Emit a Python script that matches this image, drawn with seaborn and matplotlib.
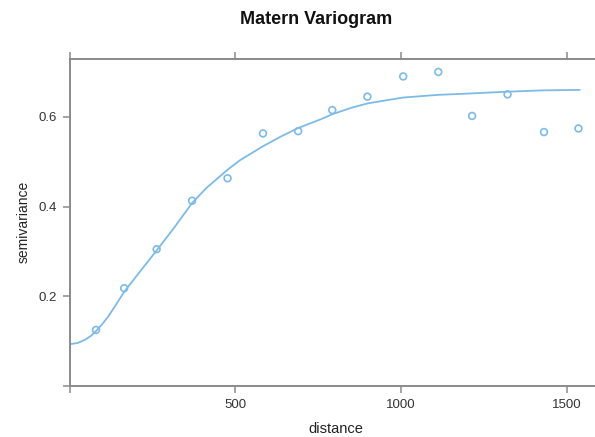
import matplotlib
matplotlib.use("Agg")
import matplotlib.pyplot as plt
import seaborn as sns
import pandas as pd

# Empirical variogram points
dist = [80, 165, 263, 370, 477, 584, 690, 793, 899, 1007, 1113, 1215, 1322, 1432, 1536]
gamma = [0.125, 0.218, 0.305, 0.413, 0.463, 0.563, 0.568, 0.615, 0.645, 0.690, 0.700, 0.602, 0.650, 0.566, 0.574]

# Fitted Matern model curve
curve_dist = [0, 25, 47, 65, 82, 100, 117, 140, 167, 218, 266, 318, 370, 414, 477, 514, 583, 635,
              690, 760, 794, 850, 900, 1007, 1113, 1178, 1322, 1430, 1540]
curve_gamma = [0.093, 0.096, 0.103, 0.112, 0.124, 0.139, 0.155, 0.181, 0.212, 0.260, 0.305,
               0.355, 0.408, 0.442, 0.482, 0.503, 0.534, 0.555, 0.575, 0.595, 0.606, 0.620,
               0.630, 0.643, 0.649, 0.651, 0.656, 0.659, 0.660]

xticks = [0, 500, 1000, 1500]
xticklabels = ["", "500", "1000", "1500"]
yticks = [0.0, 0.2, 0.4, 0.6]
yticklabels = ["", "0.2", "0.4", "0.6"]

pts = pd.DataFrame({"distance": dist, "semivariance": gamma})
model = pd.DataFrame({"distance": curve_dist, "semivariance": curve_gamma})

sns.set_theme(style="white")
plt.rcParams["font.family"] = ["Liberation Sans", "DejaVu Sans"]

W, H = 595, 437
fig = plt.figure(figsize=(W / 100, H / 100), dpi=100)
ax = fig.add_axes([69.5 / W, 1 - 386 / H, (602 - 69.5) / W, (386 - 58.5) / H])

col = "#7dbbe6"
sns.lineplot(data=model, x="distance", y="semivariance", ax=ax, color=col, linewidth=1.3)
sns.scatterplot(data=pts, x="distance", y="semivariance", ax=ax, marker="o",
                facecolor="none", edgecolor=col, linewidth=1.2, s=24, zorder=3)

ax.set_xlim(0, 1607)
ax.set_ylim(0, 0.73)
ax.set_xticks(xticks)
ax.set_xticklabels(xticklabels)
ax.set_yticks(yticks)
ax.set_yticklabels(yticklabels)

axcol = "#8a8a8a"
for s in ax.spines.values():
    s.set_color(axcol)
    s.set_linewidth(1.4)
ax.tick_params(axis="both", which="both", direction="out", length=5, width=1.1,
               color=axcol, labelsize=9.5, labelcolor="#333333", pad=4)
ax.tick_params(axis="x", top=True, labeltop=False, bottom=True)
ax.tick_params(axis="y", left=True, right=True, labelright=False)

ax.set_xlabel("distance", fontsize=10.5, color="#222222", labelpad=8)
ax.set_ylabel("semivariance", fontsize=10, color="#222222", labelpad=6)

fig.text(316 / W, 1 - 20 / H, "Matern Variogram", ha="center", va="center",
         fontsize=13, fontweight="bold", color="#111111")

fig.savefig("out.png", dpi=100)
